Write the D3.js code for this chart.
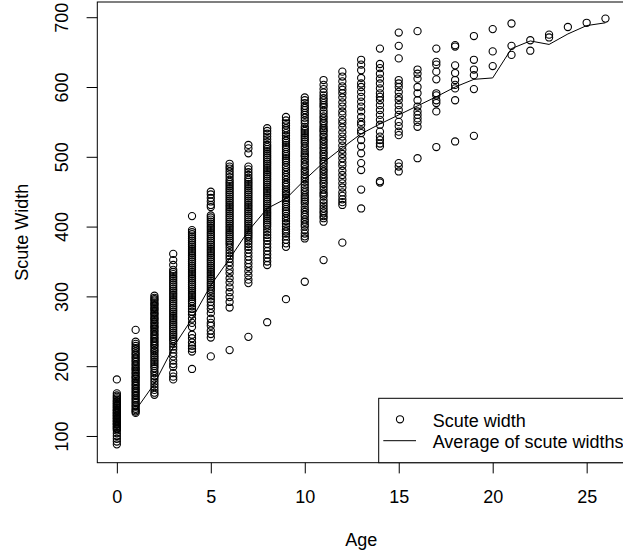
<!DOCTYPE html>
<html>
<head>
<meta charset="utf-8">
<script src="https://d3js.org/d3.v7.min.js"></script>
<style>
  body { margin: 0; background: #fff; }
  svg { display: block; font-family: "Liberation Sans", Arial, Helvetica, sans-serif; }
  .axis text { font-size: 18px; fill: #000; }
  .axis line { stroke: #000; }
</style>
</head>
<body>
<script>
// scute widths, one array per age (years)
const w0 = [181, 161, 158, 156, 154, 152, 150, 149, 147, 146, 144, 143, 141, 140, 138, 137, 136, 134, 133, 132, 130, 129, 128, 126, 125, 124, 122, 121, 120, 118, 117, 116, 114, 113, 111, 110, 108, 104, 100, 96, 92, 88];
const w1 = [252, 235, 232, 229, 226, 224, 221, 218, 216, 213, 211, 208, 206, 203, 201, 198, 196, 194, 191, 189, 186, 184, 182, 179, 177, 174, 172, 169, 167, 164, 162, 159, 157, 154, 152, 149, 147, 144, 142, 139, 137, 135, 133];
const w2 = [301, 298, 296, 294, 291, 289, 287, 284, 282, 280, 277, 275, 273, 270, 268, 266, 263, 261, 258, 256, 254, 251, 249, 246, 244, 241, 239, 236, 234, 231, 229, 226, 223, 221, 218, 215, 212, 209, 206, 203, 200, 197, 193, 190, 186, 182, 178, 174, 170, 166, 162, 159];
const w3 = [361, 352, 345, 338, 335, 332, 329, 326, 323, 320, 317, 314, 311, 308, 305, 302, 299, 296, 293, 290, 287, 284, 281, 278, 275, 272, 269, 266, 263, 260, 257, 254, 251, 248, 245, 242, 239, 236, 232, 228, 224, 219, 214, 208, 203, 199, 190, 185, 181];
const w4 = [415, 395, 392, 389, 386, 383, 380, 377, 374, 371, 368, 365, 362, 359, 356, 353, 350, 347, 344, 341, 338, 335, 332, 329, 326, 323, 320, 317, 314, 311, 308, 305, 302, 299, 296, 293, 290, 286, 282, 278, 274, 268, 262, 256, 245, 240, 234, 229, 225, 221, 196];
const w5 = [450, 446, 441, 436, 431, 428, 416, 413, 410, 407, 404, 401, 398, 395, 392, 389, 386, 383, 380, 377, 374, 371, 368, 365, 362, 359, 356, 353, 350, 347, 344, 341, 338, 335, 332, 329, 326, 323, 320, 317, 314, 311, 308, 304, 300, 296, 292, 287, 282, 276, 268, 262, 258, 251, 246, 241, 214];
const w6 = [490, 486, 483, 479, 475, 471, 467, 464, 461, 458, 455, 452, 449, 446, 443, 440, 437, 434, 431, 428, 425, 422, 419, 416, 413, 410, 407, 404, 401, 398, 395, 392, 389, 386, 383, 380, 377, 374, 370, 366, 362, 358, 354, 349, 344, 338, 333, 326, 320, 313, 306, 299, 292, 284, 223];
const w7 = [517, 512, 505, 486, 482, 478, 474, 470, 467, 464, 461, 458, 455, 452, 449, 446, 443, 440, 437, 434, 431, 428, 425, 422, 419, 416, 413, 410, 407, 404, 401, 398, 395, 392, 389, 386, 383, 379, 375, 371, 367, 362, 357, 352, 347, 342, 336, 330, 324, 319, 242];
const w8 = [541, 537, 533, 529, 525, 521, 517, 514, 511, 508, 505, 502, 499, 496, 493, 490, 487, 484, 481, 478, 475, 472, 469, 466, 463, 460, 457, 454, 451, 448, 445, 442, 439, 436, 433, 430, 427, 424, 421, 418, 415, 412, 409, 406, 403, 400, 396, 392, 388, 384, 380, 375, 370, 365, 360, 355, 350, 345, 263];
const w9 = [557, 552, 548, 545, 541, 538, 534, 530, 526, 523, 520, 517, 514, 511, 507, 504, 501, 498, 495, 492, 488, 485, 481, 478, 474, 471, 467, 463, 460, 457, 453, 450, 447, 445, 441, 438, 435, 432, 428, 425, 422, 419, 415, 412, 408, 404, 400, 396, 393, 390, 386, 381, 376, 371, 296];
const w10 = [585, 581, 577, 573, 570, 567, 563, 560, 556, 552, 548, 543, 540, 537, 534, 531, 528, 525, 522, 519, 515, 512, 508, 505, 502, 500, 496, 493, 489, 486, 482, 479, 475, 471, 468, 464, 460, 456, 452, 449, 445, 442, 439, 436, 433, 428, 424, 421, 417, 414, 410, 407, 403, 400, 395, 390, 386, 383, 321];
const w11 = [610, 603, 597, 592, 588, 584, 581, 577, 574, 571, 566, 562, 558, 555, 551, 548, 544, 541, 538, 536, 532, 529, 525, 522, 518, 514, 511, 507, 504, 500, 497, 493, 490, 486, 482, 479, 475, 471, 468, 464, 461, 457, 453, 449, 446, 443, 438, 434, 430, 426, 422, 419, 415, 412, 407, 352];
const w12 = [622, 615, 608, 601, 596, 591, 585, 578, 572, 565, 560, 553, 548, 542, 535, 529, 523, 516, 510, 504, 498, 492, 487, 480, 474, 468, 462, 456, 449, 444, 439, 435, 431, 377];
const w13 = [639, 632, 624, 613, 605, 600, 593, 586, 579, 572, 565, 557, 550, 546, 538, 534, 524, 515, 505, 491, 481, 453, 426];
const w14 = [655, 633, 627, 619, 612, 605, 598, 591, 586, 581, 574, 567, 560, 553, 546, 536, 529, 524, 519, 515, 465, 463];
const w15 = [678, 659, 641, 610, 605, 600, 593, 586, 581, 574, 567, 560, 550, 544, 536, 531, 491, 486, 479];
const w16 = [680, 625, 619, 612, 600, 591, 581, 572, 565, 560, 555, 550, 543, 498];
const w17 = [655, 636, 632, 622, 611, 591, 588, 581, 577, 565, 514];
const w18 = [660, 658, 631, 620, 610, 603, 598, 581, 522];
const w19 = [673, 639, 625, 617, 597, 530];
const w20 = [683, 651, 630];
const w21 = [691, 659, 646];
const w22 = [667, 652];
const w23 = [675, 671];
const w24 = [686];
const w25 = [692];
const w26 = [698];

const ages = [0, 1, 2, 3, 4, 5, 6, 7, 8, 9, 10, 11, 12, 13, 14, 15, 16, 17, 18, 19, 20, 21, 22, 23, 24, 25, 26];
const widthsByAge = [w0, w1, w2, w3, w4, w5, w6, w7, w8, w9, w10, w11, w12, w13, w14, w15, w16, w17, w18, w19, w20, w21, w22, w23, w24, w25, w26];

// average line as drawn (starts at x = 1)
const avgAges = [1, 2, 3, 4, 5, 6, 7, 8, 9, 10, 11, 12, 13, 14, 15, 16, 17, 18, 19, 20, 21, 22, 23, 24, 25, 26];
const avgWidths = [137, 175, 227, 268, 316, 354, 394, 426, 440, 467, 492, 513, 533, 547, 560, 573, 586, 600, 611, 613, 655, 666, 661, 676, 688, 692];

const xTicks = [0, 5, 10, 15, 20, 25];
const yTicks = [100, 200, 300, 400, 500, 600, 700];

const w = 623, h = 554;
const plotL = 97.3, plotR = 625, plotT = 2, plotB = 462.7;

const xScale = d3.scaleLinear().domain([-1.04, 27.04]).range([plotL, plotR]);
const yScale = d3.scaleLinear().domain([61.7, 721.8]).range([plotB, plotT]);

const svg = d3.select("body").append("svg")
  .attr("width", w)
  .attr("height", h);

// points
const pts = [];
ages.forEach((a, i) => widthsByAge[i].forEach(v => pts.push([a, v])));

svg.append("g")
  .selectAll("circle")
  .data(pts)
  .enter()
  .append("circle")
  .attr("cx", d => xScale(d[0]))
  .attr("cy", d => yScale(d[1]))
  .attr("r", 3.6)
  .attr("fill", "none")
  .attr("stroke", "#000")
  .attr("stroke-width", 1.1);

// average line
const line = d3.line()
  .x((d, i) => xScale(avgAges[i]))
  .y(d => yScale(d));

svg.append("path")
  .datum(avgWidths)
  .attr("d", line)
  .attr("fill", "none")
  .attr("stroke", "#000")
  .attr("stroke-width", 1);

// axes
const xAxis = d3.axisBottom(xScale).tickValues(xTicks).tickSize(10.7).tickPadding(17);
const gx = svg.append("g")
  .attr("class", "axis")
  .attr("transform", "translate(0," + plotB + ")")
  .call(xAxis);
gx.select(".domain").remove();
gx.attr("font-family", null).attr("font-size", null);

const yAxis = d3.axisLeft(yScale).tickValues(yTicks).tickSize(10.7);
const gy = svg.append("g")
  .attr("class", "axis")
  .attr("transform", "translate(" + plotL + ",0)")
  .call(yAxis);
gy.select(".domain").remove();
gy.attr("font-family", null).attr("font-size", null);
gy.selectAll("text")
  .attr("x", null)
  .attr("dy", null)
  .attr("text-anchor", "middle")
  .attr("transform", "translate(-29,0) rotate(-90)");

// box
svg.append("rect")
  .attr("x", plotL)
  .attr("y", plotT)
  .attr("width", plotR - plotL)
  .attr("height", plotB - plotT)
  .attr("fill", "none")
  .attr("stroke", "#000")
  .attr("stroke-width", 1);

// axis titles
svg.append("text")
  .attr("x", (plotL + plotR) / 2)
  .attr("y", 546)
  .attr("text-anchor", "middle")
  .attr("font-size", 18)
  .text("Age");

svg.append("text")
  .attr("transform", "translate(28," + (plotT + plotB) / 2 + ") rotate(-90)")
  .attr("text-anchor", "middle")
  .attr("font-size", 18)
  .text("Scute Width");

// legend
const lg = svg.append("g");
lg.append("rect")
  .attr("x", 378.7)
  .attr("y", 398.3)
  .attr("width", 260)
  .attr("height", plotB - 398.3)
  .attr("fill", "#fff")
  .attr("stroke", "#000")
  .attr("stroke-width", 1);
lg.append("circle")
  .attr("cx", 400)
  .attr("cy", 419.3)
  .attr("r", 3.6)
  .attr("fill", "none")
  .attr("stroke", "#000")
  .attr("stroke-width", 1.1);
lg.append("line")
  .attr("x1", 383.3).attr("x2", 416)
  .attr("y1", 440.7).attr("y2", 440.7)
  .attr("stroke", "#000");
lg.append("text")
  .attr("x", 432.7).attr("y", 426.6)
  .attr("font-size", 18)
  .text("Scute width");
lg.append("text")
  .attr("x", 432.7).attr("y", 448.3)
  .attr("font-size", 18)
  .text("Average of scute widths");
</script>
</body>
</html>
